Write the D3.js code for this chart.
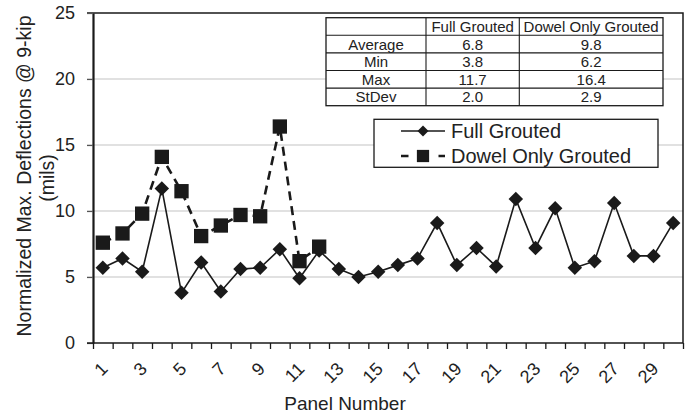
<!DOCTYPE html>
<html>
<head>
<meta charset="utf-8">
<script src="https://cdn.jsdelivr.net/npm/d3@7"></script>
<style>
  html, body { margin: 0; padding: 0; background: #fff; }
  svg { display: block; font-family: "Liberation Sans", Arial, Helvetica, sans-serif; }
</style>
</head>
<body>
<svg id="chart" width="689" height="417"></svg>
<script>
// Panel numbers along the x axis
const panels = [1, 2, 3, 4, 5, 6, 7, 8, 9, 10, 11, 12, 13, 14, 15,
                16, 17, 18, 19, 20, 21, 22, 23, 24, 25, 26, 27, 28, 29, 30];
// Normalized max deflections (mils), fully grouted panels
const fullGrouted = [5.7, 6.4, 5.4, 11.7, 3.8, 6.1, 3.9, 5.6, 5.7, 7.1,
                     4.9, 7.0, 5.6, 5.0, 5.4, 5.9, 6.4, 9.1, 5.9, 7.2,
                     5.8, 10.9, 7.2, 10.2, 5.7, 6.2, 10.6, 6.6, 6.6, 9.1];
// Dowel-only grouted panels (1 to 12)
const dowelPanels = [1, 2, 3, 4, 5, 6, 7, 8, 9, 10, 11, 12];
const dowelOnlyGrouted = [7.6, 8.3, 9.8, 14.1, 11.5, 8.1, 8.9, 9.7, 9.6, 16.4, 6.2, 7.3];

const yTickValues = [0, 5, 10, 15, 20, 25];
const xTickLabels = [1, 3, 5, 7, 9, 11, 13, 15, 17, 19, 21, 23, 25, 27, 29];
const seriesNames = ["Full Grouted", "Dowel Only Grouted"];

// Summary statistics table
const statHeaders = ["", "Full Grouted", "Dowel Only Grouted"];
const statNames = ["Average", "Min", "Max", "StDev"];
const statFull = ["6.8", "3.8", "11.7", "2.0"];
const statDowel = ["9.8", "6.2", "16.4", "2.9"];

const svg = d3.select("#chart");
const plot = { left: 93, right: 683, top: 13, bottom: 343 };
const ink = "#1a1a1a";

const x = d3.scaleBand().domain(panels).range([plot.left, plot.right]).padding(0);
const xEdge = d3.scaleLinear().domain([0, panels.length]).range([plot.left, plot.right]);
const y = d3.scaleLinear().domain([0, 25]).range([plot.bottom, plot.top]);
const cx = p => x(p) + x.bandwidth() / 2;

// Horizontal gridlines
svg.append("g")
  .selectAll("line")
  .data(yTickValues.filter(v => v > 0 && v < 25))
  .join("line")
  .attr("x1", plot.left - 6).attr("x2", plot.right)
  .attr("y1", d => y(d)).attr("y2", d => y(d))
  .attr("stroke", "#c4c4c4").attr("stroke-width", 1.2);

// Frame: top and right edges
svg.append("path")
  .attr("d", `M${plot.left - 6},${plot.top}H${plot.right}V${plot.bottom}`)
  .attr("fill", "none").attr("stroke", ink).attr("stroke-width", 1.5);

// Y axis
const yAxis = svg.append("g")
  .attr("transform", `translate(${plot.left},0)`)
  .call(d3.axisLeft(y).tickValues(yTickValues).tickSize(6).tickPadding(12).tickSizeOuter(0));
yAxis.select(".domain").attr("stroke", ink).attr("stroke-width", 2.2);
yAxis.selectAll(".tick line").attr("stroke", "#555").attr("stroke-width", 1.2);
yAxis.selectAll(".tick text")
  .attr("font-size", 18).attr("fill", "#222")
  .style("font-family", "'Liberation Sans', Arial, sans-serif");

// X axis: ticks between panels
const xAxis = svg.append("g")
  .attr("transform", `translate(0,${plot.bottom})`)
  .call(d3.axisBottom(xEdge).tickValues(d3.range(0, panels.length + 1))
    .tickSize(6).tickSizeOuter(0).tickFormat(""));
xAxis.select(".domain").attr("d", `M${plot.left - 6},0H${plot.right}`)
  .attr("stroke", ink).attr("stroke-width", 1.6);
xAxis.selectAll(".tick line").attr("stroke", ink).attr("stroke-width", 1.3);

// Rotated panel labels
svg.append("g")
  .selectAll("text")
  .data(xTickLabels)
  .join("text")
  .attr("transform", d => `translate(${cx(d) + 6},370) rotate(-45)`)
  .attr("text-anchor", "end")
  .attr("font-size", 18).attr("fill", "#222")
  .text(d => d);

// Axis titles
svg.append("text")
  .attr("x", 345).attr("y", 410)
  .attr("text-anchor", "middle").attr("font-size", 19).attr("fill", "#222")
  .text("Panel Number");
svg.append("text")
  .attr("transform", "translate(31,176) rotate(-90)")
  .attr("text-anchor", "middle").attr("font-size", 19.5).attr("fill", "#222")
  .text("Normalized Max. Deflections @ 9-kip");
svg.append("text")
  .attr("transform", "translate(54,178) rotate(-90)")
  .attr("text-anchor", "middle").attr("font-size", 19.5).attr("fill", "#222")
  .text("(mils)");

// Series lines
const line = d3.line().x(d => cx(d[0])).y(d => y(d[1]));
const fullPts = panels.map((p, i) => [p, fullGrouted[i]]);
const dowelPts = dowelPanels.map((p, i) => [p, dowelOnlyGrouted[i]]);

svg.append("path").datum(fullPts)
  .attr("d", line).attr("fill", "none")
  .attr("stroke", ink).attr("stroke-width", 1.6);

svg.append("path").datum(dowelPts)
  .attr("d", line).attr("fill", "none")
  .attr("stroke", ink).attr("stroke-width", 2.6).attr("stroke-dasharray", "9,6");

// Markers
const diamond = d3.symbol().type(d3.symbolSquare).size(105);
svg.append("g")
  .selectAll("path")
  .data(fullPts)
  .join("path")
  .attr("d", diamond)
  .attr("transform", d => `translate(${cx(d[0])},${y(d[1])}) rotate(45)`)
  .attr("fill", ink);

const square = d3.symbol().type(d3.symbolSquare).size(205);
svg.append("g")
  .selectAll("path")
  .data(dowelPts)
  .join("path")
  .attr("d", square)
  .attr("transform", d => `translate(${cx(d[0])},${y(d[1])})`)
  .attr("fill", ink);

// Statistics table
const table = svg.append("g");
const tbl = { x: 326, y: 17.7, colX: [326, 426, 519.3, 663], rowH: 17.6 };
const nRows = statNames.length + 1;
table.append("rect")
  .attr("x", tbl.x).attr("y", tbl.y)
  .attr("width", tbl.colX[3] - tbl.colX[0]).attr("height", nRows * tbl.rowH)
  .attr("fill", "#fff").attr("stroke", ink).attr("stroke-width", 1.3);
table.selectAll("line.col")
  .data(tbl.colX.slice(1, 3))
  .join("line").attr("class", "col")
  .attr("x1", d => d).attr("x2", d => d)
  .attr("y1", tbl.y).attr("y2", tbl.y + nRows * tbl.rowH)
  .attr("stroke", ink).attr("stroke-width", 1.1);
table.selectAll("line.row")
  .data(d3.range(1, nRows))
  .join("line").attr("class", "row")
  .attr("x1", tbl.colX[0]).attr("x2", tbl.colX[3])
  .attr("y1", d => tbl.y + d * tbl.rowH).attr("y2", d => tbl.y + d * tbl.rowH)
  .attr("stroke", ink).attr("stroke-width", 1.1);

const tableRows = [statHeaders].concat(statNames.map((n, i) => [n, statFull[i], statDowel[i]]));
tableRows.forEach((row, r) => {
  row.forEach((cell, c) => {
    if (!cell) return;
    table.append("text")
      .attr("x", (tbl.colX[c] + tbl.colX[c + 1]) / 2)
      .attr("y", tbl.y + r * tbl.rowH + tbl.rowH / 2 + 5.5)
      .attr("text-anchor", "middle")
      .attr("font-size", 15).attr("fill", "#222")
      .text(cell);
  });
});

// Legend
const legend = svg.append("g");
legend.append("rect")
  .attr("x", 374).attr("y", 119.3).attr("width", 284).attr("height", 48)
  .attr("fill", "#fff").attr("stroke", ink).attr("stroke-width", 1.3);

const legY = [131, 156];
legend.append("line")
  .attr("x1", 401).attr("x2", 445).attr("y1", legY[0]).attr("y2", legY[0])
  .attr("stroke", ink).attr("stroke-width", 1.6);
legend.append("path")
  .attr("d", d3.symbol().type(d3.symbolSquare).size(60))
  .attr("transform", `translate(423,${legY[0]}) rotate(45)`)
  .attr("fill", ink);
legend.append("line")
  .attr("x1", 401).attr("x2", 445).attr("y1", legY[1]).attr("y2", legY[1])
  .attr("stroke", ink).attr("stroke-width", 2.6).attr("stroke-dasharray", "7.5,30");
legend.append("path")
  .attr("d", d3.symbol().type(d3.symbolSquare).size(150))
  .attr("transform", `translate(423,${legY[1]})`)
  .attr("fill", ink);

legend.selectAll("text")
  .data(seriesNames)
  .join("text")
  .attr("x", 451)
  .attr("y", (d, i) => legY[i] + 7)
  .attr("font-size", 20).attr("fill", "#222")
  .text(d => d);
</script>
</body>
</html>
